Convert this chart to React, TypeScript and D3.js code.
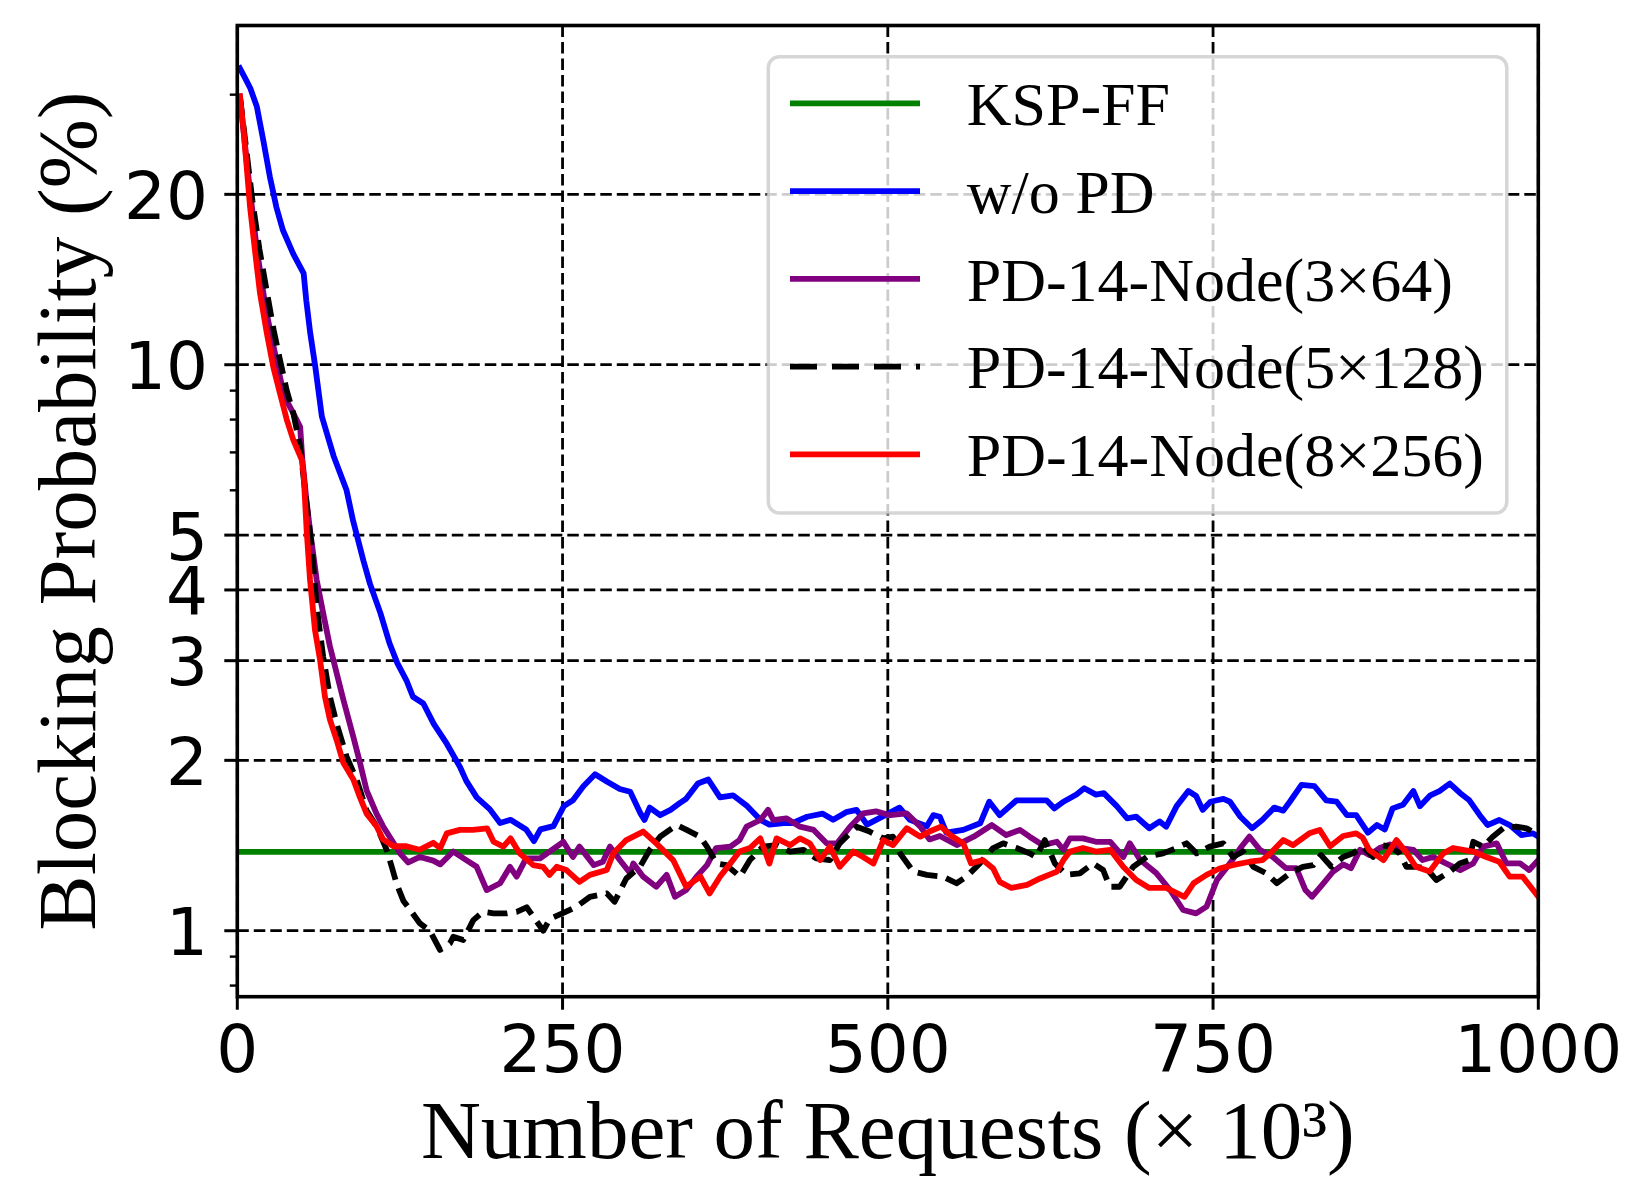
import React from 'react';
import * as d3 from 'd3';

// ---------------- data ----------------
const xTicks = [0, 250, 500, 750, 1000];
const yMajorTicks = [1, 2, 3, 4, 5, 10, 20];
const yMinorTicks = [0.8, 0.9, 6, 7, 8, 9, 30];
const xDomain: [number, number] = [0, 1000];
const yDomain: [number, number] = [0.7646, 39.75];

const seriesNames = [
  'KSP-FF',
  'w/o PD',
  'PD-14-Node(3×64)',
  'PD-14-Node(5×128)',
  'PD-14-Node(8×256)',
];
const seriesColors = ['#008000', '#0000ff', '#800080', '#000000', '#ff0000'];
const seriesDashed = [false, false, false, true, false];

const kspff: [number, number][] = [
  [0, 1.378], [1000, 1.378],
];

const woPD: [number, number][] = [
  [2, 33.4], [6, 32.1], [10, 30.8], [15, 28.6], [20, 24.9], [25, 21.5], [30, 19.0], [35, 17.3],
  [43, 15.7], [51, 14.5], [53, 13.0], [56, 11.4], [60, 9.9], [65, 8.1], [74, 6.9], [84, 6.0],
  [89, 5.3], [97, 4.5], [102, 4.1], [110, 3.64], [117, 3.22], [123, 2.97], [130, 2.77], [135, 2.59],
  [143, 2.52], [151, 2.32], [161, 2.14], [171, 1.95], [176, 1.84], [184, 1.72], [194, 1.64],
  [202, 1.55], [210, 1.57], [222, 1.51], [228, 1.44], [233, 1.51], [243, 1.53], [251, 1.66],
  [258, 1.70], [266, 1.80], [275, 1.89], [284, 1.835], [294, 1.78], [302, 1.76], [310, 1.61],
  [313, 1.57], [317, 1.65], [325, 1.60], [333, 1.635], [340, 1.68], [345, 1.71], [354, 1.82],
  [362, 1.85], [371, 1.72], [381, 1.735], [392, 1.66], [402, 1.57], [409, 1.54], [420, 1.55],
  [427, 1.55], [438, 1.59], [450, 1.61], [458, 1.57], [468, 1.62], [476, 1.635], [484, 1.54],
  [491, 1.57], [509, 1.65], [517, 1.57], [530, 1.53], [535, 1.60], [540, 1.59], [545, 1.49],
  [558, 1.507], [571, 1.548], [578, 1.69], [586, 1.60], [599, 1.70], [609, 1.70], [622, 1.70],
  [628, 1.645], [635, 1.69], [645, 1.74], [651, 1.785], [660, 1.74], [666, 1.75], [676, 1.66],
  [684, 1.58], [691, 1.59], [701, 1.517], [709, 1.56], [714, 1.527], [722, 1.66], [731, 1.765],
  [737, 1.73], [742, 1.635], [748, 1.69], [753, 1.70], [758, 1.71], [763, 1.69], [771, 1.59],
  [780, 1.517], [788, 1.57], [797, 1.65], [804, 1.63], [809, 1.69], [818, 1.81], [828, 1.80],
  [837, 1.70], [845, 1.69], [853, 1.60], [860, 1.60], [869, 1.49], [876, 1.537], [882, 1.51],
  [888, 1.645], [896, 1.67], [904, 1.765], [909, 1.66], [917, 1.735], [924, 1.765], [932, 1.82],
  [940, 1.75], [947, 1.70], [955, 1.60], [961, 1.537], [970, 1.569], [978, 1.537], [987, 1.476],
  [996, 1.486], [1000, 1.466],
];

const pd3x64: [number, number][] = [
  [2, 29.8], [8, 22], [15, 16], [22, 12.5], [30, 10.2], [36, 8.8], [42, 8.3], [48.3, 7.77],
  [50, 6.8], [53, 5.8], [55.9, 5.1], [61, 4.17], [66, 3.64], [71.2, 3.18], [76.4, 2.85],
  [81.5, 2.56], [89.2, 2.20], [94.3, 1.98], [99.4, 1.77], [107, 1.61], [112, 1.53], [120, 1.43],
  [125, 1.37], [131.4, 1.32], [140.4, 1.35], [150.6, 1.33], [156, 1.31], [166, 1.38], [176, 1.333],
  [184, 1.297], [191.7, 1.18], [202, 1.213], [209.6, 1.297], [214.7, 1.246], [222, 1.342],
  [232.7, 1.342], [240, 1.38], [250.6, 1.436], [258, 1.35], [263, 1.408], [274, 1.306],
  [281, 1.324], [286.5, 1.408], [294, 1.333], [302, 1.263], [304.4, 1.315], [312, 1.246],
  [322, 1.196], [330, 1.255], [336.4, 1.148], [345, 1.18], [353, 1.246], [361, 1.306], [368, 1.40],
  [379, 1.408], [386, 1.446], [391.5, 1.527], [402, 1.569], [408, 1.635], [412, 1.569], [422, 1.58],
  [432.5, 1.527], [443, 1.507], [453, 1.427], [461, 1.427], [471, 1.527], [481, 1.612],
  [491, 1.625], [502, 1.60], [514.5, 1.612], [525, 1.527], [532, 1.45], [540, 1.47], [553, 1.417],
  [566, 1.466], [580, 1.537], [591, 1.476], [601.5, 1.507], [609, 1.466], [619, 1.417], [630, 1.436],
  [635, 1.39], [640, 1.456], [650, 1.456], [660, 1.436], [671, 1.436], [681, 1.35], [686, 1.427],
  [694, 1.333], [706.5, 1.263], [717, 1.18], [727, 1.088], [737, 1.073], [745, 1.103], [753, 1.229],
  [763, 1.315], [771, 1.40], [778, 1.466], [786, 1.39], [796, 1.35], [806, 1.29], [814, 1.29],
  [821, 1.18], [826, 1.148], [834.5, 1.21], [842, 1.27], [850, 1.31], [856, 1.29], [863, 1.39],
  [870.4, 1.36], [878, 1.40], [886, 1.42], [894, 1.40], [904, 1.39], [911, 1.333], [919, 1.35],
  [929, 1.315], [940, 1.28], [950, 1.315], [957.5, 1.408], [968, 1.427], [975.5, 1.315],
  [986, 1.315], [993, 1.28], [1000, 1.333],
];

const pd5x128: [number, number][] = [
  [2, 29.8], [6, 25], [11.6, 19.5], [17, 16], [22.6, 13.5], [28, 11.5], [32.8, 10.2], [38, 9.0],
  [43.1, 8.2], [48.4, 7.16], [52, 6.0], [57.2, 4.77], [61, 3.74], [66, 3.05], [71.2, 2.59],
  [76.4, 2.32], [84, 2.03], [91.7, 1.85], [99.4, 1.63], [107, 1.53], [114.8, 1.39], [118.6, 1.30],
  [122.5, 1.21], [127.6, 1.13], [132.7, 1.09], [140.4, 1.03], [148, 1.0], [155.8, 0.925],
  [163.5, 0.95], [166, 0.976], [173.7, 0.963], [181.4, 1.044], [189, 1.08], [197, 1.073],
  [207, 1.073], [214.7, 1.08], [222.4, 1.10], [235.2, 1.0], [240.3, 1.05], [250.6, 1.075],
  [260.8, 1.103], [271, 1.148], [284, 1.164], [290, 1.125], [299, 1.237], [309.5, 1.297],
  [317, 1.39], [325, 1.466], [337.7, 1.537], [345.4, 1.507], [355.6, 1.466], [361, 1.408],
  [368.4, 1.315], [376, 1.306], [386.4, 1.246], [394, 1.333], [404, 1.408], [414.5, 1.417],
  [425, 1.38], [435, 1.39], [445, 1.342], [455.5, 1.333], [463, 1.427], [476, 1.527], [486, 1.497],
  [496.5, 1.456], [504, 1.466], [509.4, 1.37], [519.6, 1.272], [530, 1.255], [542.5, 1.246],
  [552.8, 1.213], [560.5, 1.246], [570.7, 1.315], [581, 1.40], [588.7, 1.427], [599, 1.40],
  [609, 1.37], [614, 1.35], [620.7, 1.446], [628.4, 1.315], [637.3, 1.255], [647.6, 1.263],
  [657.8, 1.315], [665.5, 1.28], [670.6, 1.196], [678.3, 1.196], [688.6, 1.297], [699, 1.35],
  [711.6, 1.37], [722, 1.40], [729.6, 1.427], [737.3, 1.37], [747.5, 1.408], [757.8, 1.427],
  [765.4, 1.35], [773, 1.38], [781, 1.297], [791, 1.263], [799, 1.213], [809, 1.263], [819, 1.297],
  [827, 1.306], [833, 1.36], [841, 1.297], [850, 1.35], [857.6, 1.37], [865, 1.408], [873, 1.35],
  [879.4, 1.417], [886, 1.408], [893.5, 1.37], [898.6, 1.297], [906, 1.297], [914, 1.288],
  [921.7, 1.229], [932, 1.272], [939.6, 1.315], [947, 1.333], [950, 1.436], [957.5, 1.408],
  [965, 1.466], [973, 1.517], [983, 1.527], [991, 1.517], [1000, 1.476],
];

const pd8x256: [number, number][] = [
  [2, 29.8], [4.6, 26.3], [7.2, 22.4], [9.8, 19.0], [13.6, 15.9], [17.4, 13.4], [22.6, 11.4],
  [27.7, 9.9], [32.8, 8.9], [38, 8.0], [43.1, 7.36], [49.5, 6.8], [51, 6.4], [53.3, 5.1],
  [55.9, 4.17], [59.7, 3.40], [63.6, 3.01], [67.4, 2.59], [71.2, 2.36], [76.4, 2.17], [81.5, 1.98],
  [89.2, 1.85], [94.3, 1.72], [99.4, 1.61], [107, 1.53], [112, 1.45], [120, 1.41], [130, 1.41],
  [140, 1.39], [150.6, 1.43], [156, 1.40], [161, 1.486], [171, 1.507], [181, 1.507], [192, 1.517],
  [197, 1.436], [204.5, 1.408], [210, 1.456], [217, 1.37], [227.5, 1.306], [235, 1.297],
  [240, 1.255], [245.5, 1.297], [253, 1.28], [263, 1.22], [271, 1.255], [284, 1.28], [289, 1.37],
  [299, 1.446], [312, 1.497], [322, 1.427], [335, 1.333], [345, 1.196], [356, 1.246], [363, 1.164],
  [371, 1.246], [379, 1.315], [386, 1.38], [394, 1.40], [402, 1.456], [409, 1.315], [414.5, 1.456],
  [425, 1.417], [432.5, 1.456], [440, 1.427], [448, 1.333], [455.5, 1.408], [463, 1.297],
  [473.5, 1.38], [481, 1.35], [489, 1.315], [496.5, 1.446], [504, 1.417], [514.5, 1.517],
  [525, 1.466], [532, 1.497], [541, 1.527], [548, 1.476], [558, 1.427], [564, 1.315], [573, 1.333],
  [581, 1.288], [586, 1.22], [595, 1.19], [607, 1.205], [617, 1.237], [630, 1.272], [635, 1.333],
  [640, 1.38], [650, 1.40], [660, 1.38], [671, 1.39], [681, 1.297], [691, 1.229], [701, 1.19],
  [714, 1.19], [728, 1.148], [735, 1.213], [745, 1.255], [755, 1.288], [765, 1.306], [778, 1.324],
  [788, 1.333], [794, 1.37], [804, 1.446], [811.5, 1.417], [824, 1.486], [832, 1.507], [840, 1.41],
  [850, 1.47], [860, 1.486], [865, 1.46], [870, 1.39], [881, 1.333], [891, 1.446], [899, 1.37],
  [906, 1.297], [916.5, 1.272], [927, 1.37], [934.5, 1.40], [942, 1.39], [950, 1.38], [960, 1.35],
  [970, 1.324], [978, 1.246], [988, 1.246], [996, 1.18], [1000, 1.148],
];

const allSeries = [kspff, woPD, pd3x64, pd5x128, pd8x256];

// ---------------- layout ----------------
const W = 1638;
const H = 1203;
const PL = 237.3;
const PR = 1538.3;
const PT = 25.5;
const PB = 996.7;

const serif = '"Liberation Serif", "Times New Roman", serif';
const sans = '"DejaVu Sans", sans-serif';

export default function App() {
  const x = d3.scaleLinear().domain(xDomain).range([PL, PR]);
  const y = d3.scaleLog().domain(yDomain).range([PB, PT]);
  const line = d3
    .line<[number, number]>()
    .x((d) => x(d[0]))
    .y((d) => y(d[1]));

  const legendX = 768.3;
  const legendY = 56.7;
  const legendW = 738.5;
  const legendH = 456.3;
  const legendRowY = (i: number) => 103.3 + i * 87.75;

  return (
    <svg
      width={W}
      height={H}
      style={{ position: 'absolute', left: 0, top: 0, background: '#fff' }}
      xmlns="http://www.w3.org/2000/svg"
    >
      <defs>
        <clipPath id="plotClip">
          <rect x={PL} y={PT} width={PR - PL} height={PB - PT} />
        </clipPath>
      </defs>
      <rect x={0} y={0} width={W} height={H} fill="#fff" />

      {/* grid */}
      <g stroke="#000" strokeWidth={2.8} strokeDasharray="11.5 5" fill="none">
        {yMajorTicks.map((t) => (
          <line key={'gy' + t} x1={PL} x2={PR} y1={y(t)} y2={y(t)} />
        ))}
        {xTicks.map((t) => (
          <line key={'gx' + t} x1={x(t)} x2={x(t)} y1={PT} y2={PB} />
        ))}
      </g>

      {/* data */}
      <g clipPath="url(#plotClip)" fill="none">
        {allSeries.map((s, i) => (
          <path
            key={'s' + i}
            d={line(s) || ''}
            stroke={seriesColors[i]}
            strokeWidth={5.8}
            strokeLinejoin="round"
            strokeLinecap={seriesDashed[i] ? 'butt' : 'square'}
            strokeDasharray={seriesDashed[i] ? '20 9' : undefined}
          />
        ))}
      </g>

      {/* spines */}
      <rect x={PL} y={PT} width={PR - PL} height={PB - PT} fill="none" stroke="#000" strokeWidth={3.6} />

      {/* ticks */}
      <g stroke="#000" strokeWidth={3}>
        {xTicks.map((t) => (
          <line key={'tx' + t} x1={x(t)} x2={x(t)} y1={PB} y2={PB + 13} />
        ))}
        {yMajorTicks.map((t) => (
          <line key={'ty' + t} x1={PL - 13} x2={PL} y1={y(t)} y2={y(t)} />
        ))}
        {yMinorTicks.map((t) => (
          <line key={'tm' + t} x1={PL - 7.5} x2={PL} y1={y(t)} y2={y(t)} strokeWidth={2.4} />
        ))}
      </g>

      {/* tick labels */}
      <g fontFamily={sans} fontSize={66} fill="#000">
        {xTicks.map((t) => (
          <text key={'lx' + t} x={x(t)} y={1072} textAnchor="middle">
            {String(t)}
          </text>
        ))}
        {yMajorTicks.map((t) => (
          <text key={'ly' + t} x={208} y={y(t) + 24.5} textAnchor="end">
            {String(t)}
          </text>
        ))}
      </g>

      {/* axis labels */}
      <text x={(PL + PR) / 2} y={1158} textAnchor="middle" fontFamily={serif} fontSize={83} fill="#000">
        Number of Requests (× 10³)
      </text>
      <text
        x={95}
        y={(PT + PB) / 2}
        transform={`rotate(-90, 95, ${(PT + PB) / 2})`}
        textAnchor="middle"
        fontFamily={serif}
        fontSize={83}
        fill="#000"
      >
        Blocking Probability (%)
      </text>

      {/* legend */}
      <g>
        <rect
          x={legendX}
          y={legendY}
          width={legendW}
          height={legendH}
          rx={11}
          ry={11}
          fill="#fff"
          fillOpacity={0.8}
          stroke="#cccccc"
          strokeOpacity={0.8}
          strokeWidth={3.5}
        />
        {seriesNames.map((name, i) => (
          <g key={'lg' + i}>
            <line
              x1={790}
              x2={920}
              y1={legendRowY(i)}
              y2={legendRowY(i)}
              stroke={seriesColors[i]}
              strokeWidth={5.8}
              strokeDasharray={seriesDashed[i] ? '27 15' : undefined}
            />
            <text x={966.7} y={legendRowY(i) + 21.7} fontFamily={serif} fontSize={62} fill="#000">
              {name}
            </text>
          </g>
        ))}
      </g>
    </svg>
  );
}
